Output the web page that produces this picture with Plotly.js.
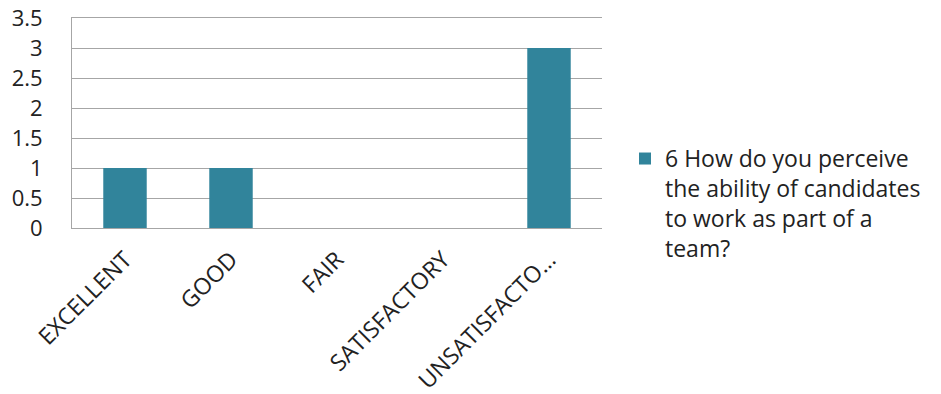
<!DOCTYPE html>
<html>
<head>
<meta charset="utf-8">
<script src="https://cdn.plot.ly/plotly-3.0.1.min.js"></script>
<style>html,body{margin:0;padding:0;background:#fff}#chart{width:941px;height:394px}</style>
</head>
<body>
<div id="chart"></div>
<script>
const categories = ["EXCELLENT", "GOOD", "FAIR", "SATISFACTORY", "UNSATISFACTO…"];
const seriesValues = [1, 1, 0, 0, 3];
const seriesName = "6 How do you perceive<br>the ability of candidates<br>to work as part of a<br>team?";
const yTickValues = [0, 0.5, 1, 1.5, 2, 2.5, 3, 3.5];
const yTickLabels = ["0", "0.5", "1", "1.5", "2", "2.5", "3", "3.5"];

const trace = {
  type: "bar",
  x: categories,
  y: seriesValues,
  name: seriesName,
  marker: {color: "#31849B"},
  showlegend: true
};

const layout = {
  width: 941, height: 394,
  margin: {l: 72, r: 339, t: 18, b: 166, pad: 0},
  paper_bgcolor: "#ffffff",
  plot_bgcolor: "#ffffff",
  font: {family: "'Open Sans', sans-serif", color: "#222222"},
  bargap: 0.59,
  xaxis: {
    type: "category",
    tickangle: -45,
    tickfont: {size: 23, color: "#222222"},
    showgrid: false,
    showline: true,
    mirror: true,
    linecolor: "#a6a6a6",
    linewidth: 1,
    ticks: "",
    ticklabelstandoff: 8
  },
  yaxis: {
    range: [0, 3.5],
    tickvals: yTickValues,
    ticktext: yTickLabels,
    tickfont: {size: 22, color: "#222222"},
    showgrid: true,
    gridcolor: "#a6a6a6",
    gridwidth: 1,
    zeroline: false,
    showline: true,
    linecolor: "#a6a6a6",
    linewidth: 1,
    ticks: "",
    ticklabelstandoff: 24,
    ticklabeloverflow: "allow"
  },
  legend: {
    x: 1.0434, y: 0.433,
    xanchor: "left", yanchor: "top",
    font: {size: 23, color: "#222222"},
    valign: "top",
    itemwidth: 30,
    tracegroupgap: 0
  },
  showlegend: true
};

Plotly.newPlot("chart", [trace], layout, {displayModeBar: false, staticPlot: true});
</script>
</body>
</html>
